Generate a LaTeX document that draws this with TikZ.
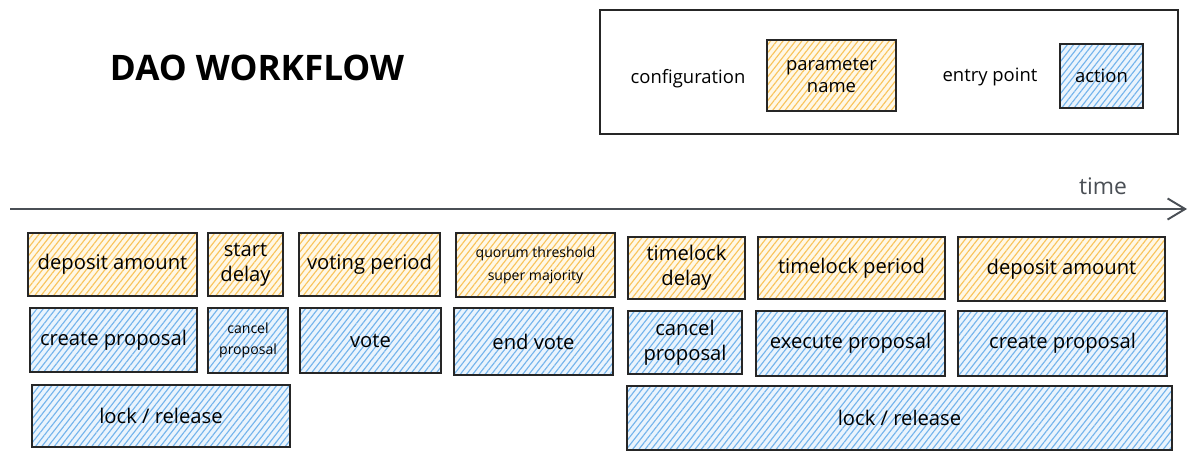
\documentclass[tikz,border=0pt]{standalone}
\usepackage{fontspec}
\setmainfont{Open Sans}
\usetikzlibrary{patterns.meta,arrows.meta,fit}
\definecolor{hatchY}{HTML}{F9C45C}
\definecolor{bgY}{HTML}{FFF8E6}
\definecolor{hatchB}{HTML}{74B4EC}
\definecolor{bgB}{HTML}{EAF4FD}
\definecolor{axis}{HTML}{4A4F55}
\tikzset{
  base/.style={draw=black!85, line width=0.9pt, inner sep=0pt},
  cfgbox/.style={base, preaction={fill=bgY}, pattern={Lines[angle=52,distance=2.8pt,line width=0.65pt]}, pattern color=hatchY},
  actbox/.style={base, preaction={fill=bgB}, pattern={Lines[angle=52,distance=2.8pt,line width=0.65pt]}, pattern color=hatchB},
  boxtext/.style={font=\fontsize{11.5}{14}\selectfont, align=center, inner sep=0pt},
  smalltext/.style={font=\fontsize{8}{12}\selectfont, align=center, inner sep=0pt},
  lbl/.style={font=\fontsize{10.5}{12}\selectfont, inner sep=0pt}
}
\begin{document}
\begin{tikzpicture}[x=0.02cm,y=-0.02cm]
\useasboundingbox (0,0) rectangle (1195,460);

% title
\node[font=\fontsize{20}{22}\selectfont\bfseries, inner sep=0pt] (title) at (257,68) {DAO WORKFLOW};

% legend
\node[draw=black!85, line width=0.8pt, fit={(600,10)(1178,134)}, inner sep=0pt] (legend) {};
\node[lbl] (conf) at (688,79) {configuration};
\node[cfgbox, fit={(767,40)(896,111)}] (pname) {};
\node[font=\fontsize{10.5}{13}\selectfont, align=center, inner sep=0pt] (pname-t) at (pname.center) {parameter\\name};
\node[lbl] (entry) at (990,77) {entry point};
\node[actbox, fit={(1060,44)(1143,108)}] (action) {};
\node[lbl] (action-t) at (action.center) {action};

% time axis
\coordinate (t0) at (10,209);
\coordinate (t1) at (1187,209);
\draw[axis, line width=1.1pt, -{Straight Barb[length=10pt,width=12pt,line width=1.1pt]}] (t0) -- (t1);
\node[font=\fontsize{13}{15}\selectfont, text=axis, inner sep=0pt] (time) at (1103,186) {time};

% row 1: configuration
\node[cfgbox, fit={(28,233)(197,296)}] (c1) {};
\node[boxtext] (c1-t) at (c1.center) {deposit amount};
\node[cfgbox, fit={(208,233)(283,296)}] (c2) {};
\node[boxtext] (c2-t) at (c2.center) {start\\delay};
\node[cfgbox, fit={(299,233)(440,296)}] (c3) {};
\node[boxtext] (c3-t) at (c3.center) {voting period};
\node[cfgbox, fit={(456,233)(615,297)}] (c4) {};
\node[smalltext, font=\fontsize{8}{13}\selectfont] (c4-t) at (c4.center) {quorum threshold\\super majority};
\node[cfgbox, fit={(628,237)(745,299)}] (c5) {};
\node[boxtext] (c5-t) at (c5.center) {timelock\\delay};
\node[cfgbox, fit={(758,237)(945,299)}] (c6) {};
\node[boxtext] (c6-t) at (c6.center) {timelock period};
\node[cfgbox, fit={(958,237)(1165,301)}] (c7) {};
\node[boxtext] (c7-t) at (c7.center) {deposit amount};

% row 2: entry points
\node[actbox, fit={(30,308)(197,372)}] (a1) {};
\node[boxtext] (a1-t) at (a1.center) {create proposal};
\node[actbox, fit={(208,308)(288,373)}] (a2) {};
\node[smalltext] (a2-t) at (a2.center) {cancel\\proposal};
\node[actbox, fit={(300,308)(441,373)}] (a3) {};
\node[boxtext] (a3-t) at (a3.center) {vote};
\node[actbox, fit={(454,308)(613,375)}] (a4) {};
\node[boxtext] (a4-t) at (a4.center) {end vote};
\node[actbox, fit={(628,311)(742,374)}] (a5) {};
\node[boxtext] (a5-t) at (a5.center) {cancel\\proposal};
\node[actbox, fit={(756,311)(945,376)}] (a6) {};
\node[boxtext] (a6-t) at (a6.center) {execute proposal};
\node[actbox, fit={(958,311)(1167,376)}] (a7) {};
\node[boxtext] (a7-t) at (a7.center) {create proposal};

% row 3
\node[actbox, fit={(32,385)(290,447)}] (l1) {};
\node[boxtext] (l1-t) at (l1.center) {lock / release};
\node[actbox, fit={(627,386)(1172,450)}] (l2) {};
\node[boxtext] (l2-t) at (l2.center) {lock / release};
\end{tikzpicture}
\end{document}
